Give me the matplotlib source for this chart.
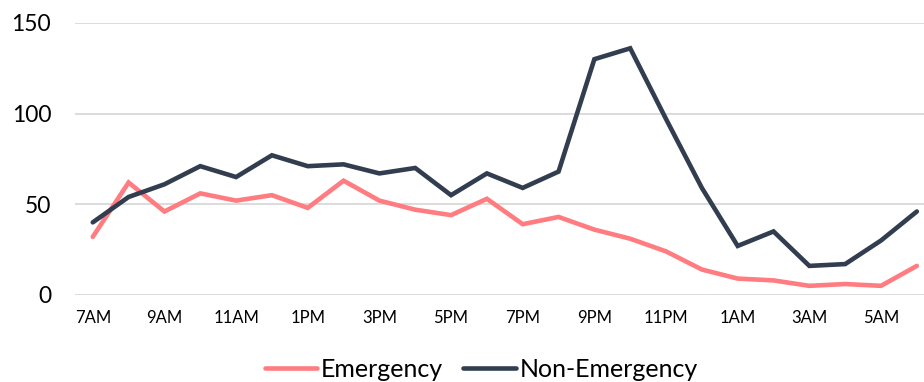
import matplotlib
matplotlib.use("Agg")
import matplotlib.pyplot as plt
from matplotlib.ticker import FixedLocator

hours = ["7AM", "8AM", "9AM", "10AM", "11AM", "12PM", "1PM", "2PM", "3PM", "4PM",
         "5PM", "6PM", "7PM", "8PM", "9PM", "10PM", "11PM", "12AM", "1AM", "2AM",
         "3AM", "4AM", "5AM", "6AM"]
emergency = [32, 62, 46, 56, 52, 55, 48, 63, 52, 47, 44, 53, 39, 43, 36, 31, 24, 14,
             9, 8, 5, 6, 5, 16]
non_emergency = [40, 54, 61, 71, 65, 77, 71, 72, 67, 70, 55, 67, 59, 68, 130, 136, 97,
                 59, 27, 35, 16, 17, 30, 46]
y_ticks = [0, 50, 100, 150]

plt.rcParams["font.family"] = ["Lato", "DejaVu Sans"]

fig = plt.figure(figsize=(9.24, 3.82), dpi=100)
ax = fig.add_axes([0.081, 0.228, 0.919, 0.712])

x = list(range(len(hours)))
ax.plot(x, emergency, color="#FF7C80", lw=3.3, label="Emergency",
        solid_capstyle="round", solid_joinstyle="miter")
ax.plot(x, non_emergency, color="#323E4F", lw=3.3, label="Non-Emergency",
        solid_capstyle="round", solid_joinstyle="miter")

ax.set_ylim(0, 150)
ax.set_xlim(-0.5, 23.2)
ax.yaxis.set_major_locator(FixedLocator(y_ticks))
ax.set_yticklabels([str(t) for t in y_ticks], fontsize=16.5)
ax.set_xticks(x[::2])
ax.set_xticklabels(hours[::2], fontsize=12)
ax.tick_params(axis="y", length=0, pad=17)
ax.tick_params(axis="x", length=0, pad=11)
ax.grid(axis="y", color="#D9D9D9", lw=1.3)
ax.set_axisbelow(True)
for s in ax.spines.values():
    s.set_visible(False)

fig.legend(loc="lower center", bbox_to_anchor=(0.521, -0.055), ncol=2, frameon=False,
           fontsize=18, handlelength=2.1, handletextpad=0.15, columnspacing=0.8)

fig.savefig("out.png", dpi=100)
